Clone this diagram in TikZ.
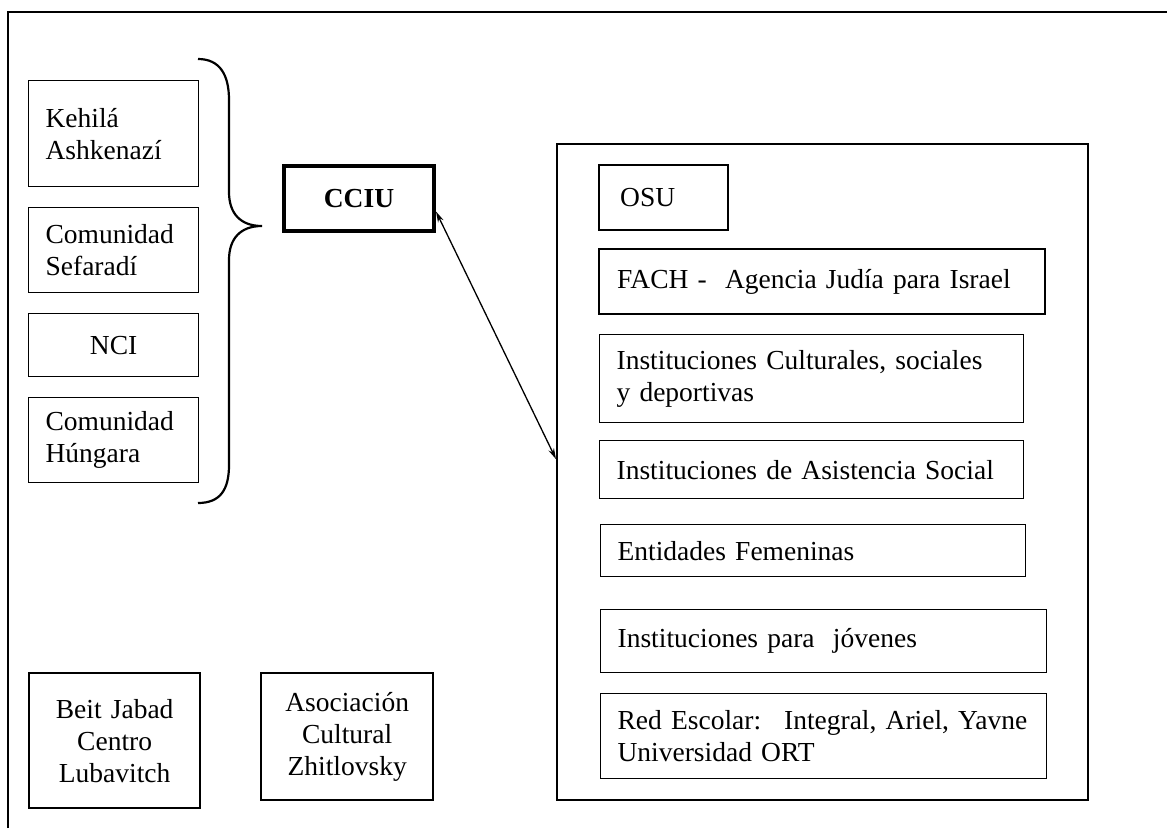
\documentclass[tikz,border=0pt]{standalone}
\usepackage{fontspec}
\setmainfont{Liberation Serif}
\usetikzlibrary{arrows.meta}

\tikzset{
    orgbox/.style={draw, line width=1.2pt, anchor=north west, inner xsep=0pt, inner ysep=0pt, align=left, font=\fontsize{27.5}{32}\selectfont},
    orgboxbold/.style={orgbox, line width=2.3pt},
    centrado/.style={align=center}
}

\begin{document}
\begin{tikzpicture}[x=1pt, y=-1pt]
    \useasboundingbox (0,0) rectangle (1167,828);
    % marco exterior
    \draw[line width=1.5pt] (8,828) -- (8,12) -- (1167,12);

    % comunidades
    \node[orgbox, minimum width=170pt, minimum height=106pt, text width=136pt] (kehila) at (28,80) {Kehilá\\Ashkenazí};
    \node[orgbox, minimum width=170pt, minimum height=85pt, text width=136pt] (sefaradi) at (28,207) {Comunidad\\Sefaradí};
    \node[orgbox, centrado, minimum width=170pt, minimum height=63pt, text width=136pt] (nci) at (28,313) {NCI};
    \node[orgbox, minimum width=170pt, minimum height=85pt, text width=136pt] (hungara) at (28,397) {Comunidad\\Húngara};

    % llave
    \draw[line width=2.2pt] (198,59) .. controls (220,59) and (229,75) .. (229,100) -- (229,192)
        .. controls (229,213) and (240,226) .. (262,226)
        .. controls (240,226) and (229,239) .. (229,260) -- (229,465)
        .. controls (229,490) and (220,503) .. (198,503);

    \node[orgbox, centrado, line width=4pt, minimum width=150pt, minimum height=65pt, text width=130pt, font=\fontsize{27.5}{32}\selectfont\bfseries] (cciu) at (282,164) {CCIU};

    % instituciones
    \node[orgboxbold, minimum width=531pt, minimum height=656pt] (inst) at (556,143) {};
    \node[orgboxbold, minimum width=129pt, minimum height=65pt, text width=87pt] (osu) at (598,164) {OSU};
    \node[orgboxbold, minimum width=446pt, minimum height=65pt, text width=410pt] (fach) at (598,248) {FACH - \ Agencia Judía para Israel};
    \node[orgbox, minimum width=424pt, minimum height=88pt, text width=390pt] (cultura) at (599,334) {Instituciones Culturales, sociales\\y deportivas};
    \node[orgbox, minimum width=424pt, minimum height=58pt, text width=390pt] (asist) at (599,440) {Instituciones de Asistencia Social};
    \node[orgbox, minimum width=425pt, minimum height=52pt, text width=391pt] (femen) at (600,524) {Entidades Femeninas};
    \node[orgbox, minimum width=446pt, minimum height=63pt, text width=412pt] (joven) at (600,609) {Instituciones para \ jóvenes};
    \node[orgbox, minimum width=446pt, minimum height=85pt, text width=412pt] (escolar) at (600,693) {Red Escolar: \ Integral, Ariel, Yavne\\Universidad ORT};

    \draw[line width=1.3pt, {Stealth[length=11pt,width=6pt]}-{Stealth[length=11pt,width=6pt]}] ([yshift=-13pt]cciu.east) -- ([yshift=13pt]inst.west);

    % otras entidades
    \node[orgboxbold, centrado, minimum width=171pt, minimum height=135pt, text width=150pt] (jabad) at (28,672) {Beit Jabad\\Centro\\Lubavitch};
    \node[orgboxbold, centrado, minimum width=172pt, minimum height=127pt, text width=150pt] (zhitlo) at (260,672) {Asociación\\Cultural\\Zhitlovsky};
\end{tikzpicture}
\end{document}
